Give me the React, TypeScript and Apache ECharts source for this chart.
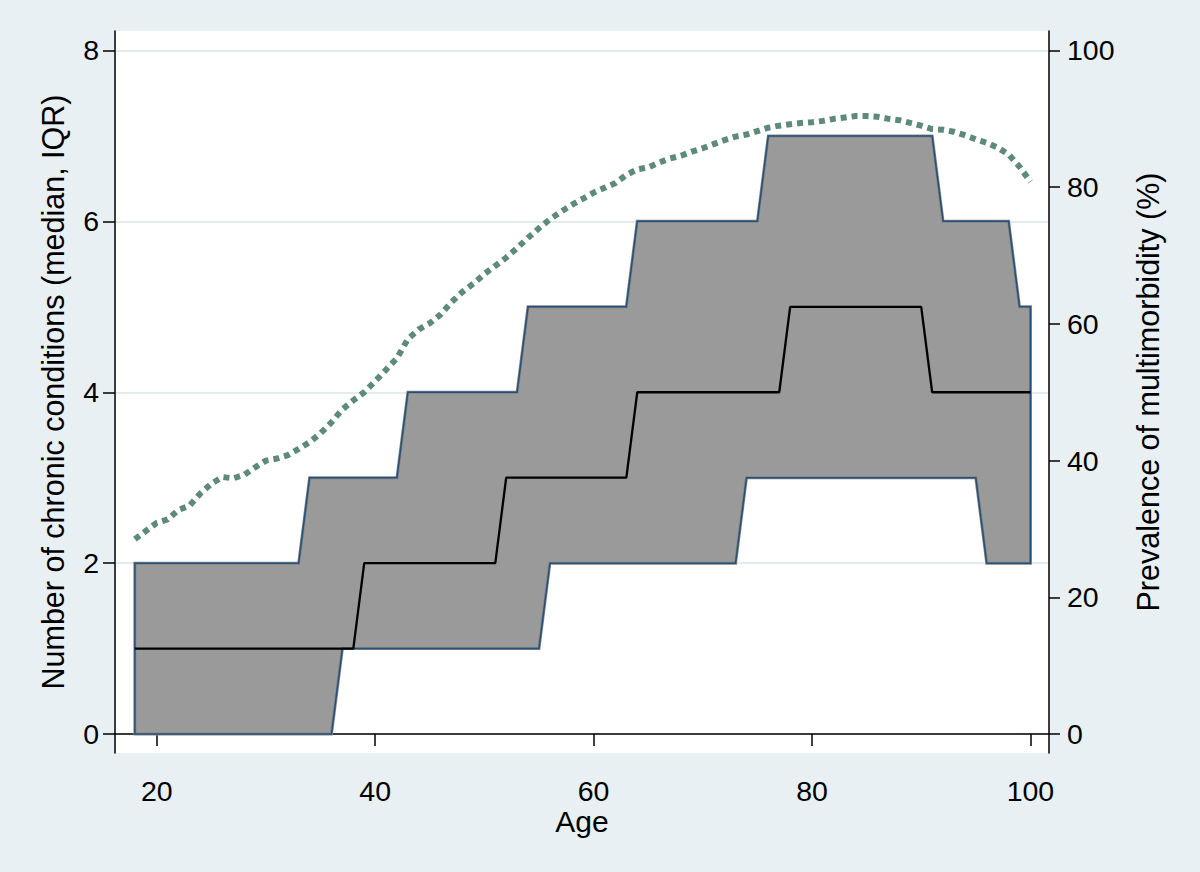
import React, { useEffect, useRef } from 'react';
import * as echarts from 'echarts';

const ages = [
  18, 19, 20, 21, 22, 23, 24, 25, 26, 27, 28, 29, 30, 31, 32, 33, 34, 35, 36, 37,
  38, 39, 40, 41, 42, 43, 44, 45, 46, 47, 48, 49, 50, 51, 52, 53, 54, 55, 56, 57,
  58, 59, 60, 61, 62, 63, 64, 65, 66, 67, 68, 69, 70, 71, 72, 73, 74, 75, 76, 77,
  78, 79, 80, 81, 82, 83, 84, 85, 86, 87, 88, 89, 90, 91, 92, 93, 94, 95, 96, 97,
  98, 99, 100,
];

// lower quartile (25th percentile) of chronic conditions
const q1 = [
  0, 0, 0, 0, 0, 0, 0, 0, 0, 0, 0, 0, 0, 0, 0, 0, 0, 0, 0, // 18-36
  1, 1, 1, 1, 1, 1, 1, 1, 1, 1, 1, 1, 1, 1, 1, 1, 1, 1, 1, // 37-55
  2, 2, 2, 2, 2, 2, 2, 2, 2, 2, 2, 2, 2, 2, 2, 2, 2, 2, // 56-73
  3, 3, 3, 3, 3, 3, 3, 3, 3, 3, 3, 3, 3, 3, 3, 3, 3, 3, 3, 3, 3, 3, // 74-95
  2, 2, 2, 2, 2, // 96-100
];

// upper quartile (75th percentile)
const q3 = [
  2, 2, 2, 2, 2, 2, 2, 2, 2, 2, 2, 2, 2, 2, 2, 2, // 18-33
  3, 3, 3, 3, 3, 3, 3, 3, 3, // 34-42
  4, 4, 4, 4, 4, 4, 4, 4, 4, 4, 4, // 43-53
  5, 5, 5, 5, 5, 5, 5, 5, 5, 5, // 54-63
  6, 6, 6, 6, 6, 6, 6, 6, 6, 6, 6, 6, // 64-75
  7, 7, 7, 7, 7, 7, 7, 7, 7, 7, 7, 7, 7, 7, 7, 7, // 76-91
  6, 6, 6, 6, 6, 6, 6, // 92-98
  5, 5, // 99-100
];

// median
const median = [
  1, 1, 1, 1, 1, 1, 1, 1, 1, 1, 1, 1, 1, 1, 1, 1, 1, 1, 1, 1, 1, // 18-38
  2, 2, 2, 2, 2, 2, 2, 2, 2, 2, 2, 2, 2, // 39-51
  3, 3, 3, 3, 3, 3, 3, 3, 3, 3, 3, 3, // 52-63
  4, 4, 4, 4, 4, 4, 4, 4, 4, 4, 4, 4, 4, 4, // 64-77
  5, 5, 5, 5, 5, 5, 5, 5, 5, 5, 5, 5, 5, // 78-90
  4, 4, 4, 4, 4, 4, 4, 4, 4, 4, // 91-100
];

// prevalence of multimorbidity (%)
const prevalence = [
  28.5, 29.7, 30.9, 31.4, 32.8, 33.4, 35.2, 36.6, 37.6, 37.4,
  37.9, 39.0, 40.0, 40.3, 40.8, 41.7, 42.7, 44.0, 45.6, 47.5,
  48.8, 50.0, 51.6, 53.3, 55.0, 57.8, 59.2, 60.1, 61.4, 63.2,
  64.7, 65.9, 67.3, 68.5, 69.7, 71.1, 72.6, 74.0, 75.3, 76.4,
  77.4, 78.3, 79.2, 79.9, 80.6, 81.8, 82.6, 82.9, 83.6, 84.2,
  84.6, 85.2, 85.7, 86.3, 86.9, 87.4, 87.7, 88.2, 88.7, 89.0,
  89.2, 89.4, 89.5, 89.7, 90.0, 90.2, 90.4, 90.4, 90.3, 90.0,
  89.8, 89.4, 89.0, 88.5, 88.4, 88.1, 87.6, 87.0, 86.5, 85.8,
  84.8, 83.0, 80.8,
];

const xTicks = [20, 40, 60, 80, 100];
const yLeftTicks = [0, 2, 4, 6, 8];
const yRightTicks = [0, 20, 40, 60, 80, 100];

const FONT = "'Liberation Sans', Arial, Helvetica, sans-serif";
const NAVY = '#24507c';
const BAND = '#9a9a9a';
const DOT = '#5d8a7b';
const GRID = '#e2ebef';
const BG = '#e8f0f3';

export default function App() {
  const ref = useRef<HTMLDivElement>(null);
  useEffect(() => {
    if (!ref.current) return;
    const chart = echarts.init(ref.current, undefined, { renderer: 'svg' });
    chart.setOption({
      animation: false,
      backgroundColor: BG,
      textStyle: { fontFamily: FONT },
      grid: {
        left: 115,
        right: 151,
        top: 31,
        bottom: 119,
        show: true,
        backgroundColor: '#ffffff',
        borderWidth: 0,
      },
      xAxis: {
        type: 'value',
        min: 16.18,
        max: 101.7,
        axisLine: { show: true, lineStyle: { color: '#000', width: 1.5 } },
        axisTick: { show: true, length: 12, customValues: xTicks, lineStyle: { color: '#000', width: 1.5 } },
        axisLabel: { customValues: xTicks, fontSize: 28.5, color: '#000', margin: 23, fontFamily: FONT },
        splitLine: { show: false },
        name: 'Age',
        nameLocation: 'middle',
        nameGap: 53,
        nameMoveOverlap: false,
        nameTextStyle: { fontSize: 30, color: '#000', fontFamily: FONT },
      },
      yAxis: [
        {
          type: 'value',
          position: 'left',
          min: -0.222,
          max: 8.228,
          axisLine: { show: true, lineStyle: { color: '#000', width: 1.5 } },
          axisTick: { show: true, length: 12, customValues: yLeftTicks, lineStyle: { color: '#000', width: 1.5 } },
          axisLabel: { customValues: yLeftTicks, fontSize: 28.5, color: '#000', margin: 16, fontFamily: FONT },
          splitLine: { show: true, lineStyle: { color: GRID, width: 2 } },
          name: 'Number of chronic conditions (median, IQR)',
          nameLocation: 'middle',
          nameGap: 47,
          nameTextStyle: { fontSize: 30.5, color: '#000', fontFamily: FONT },
        },
        {
          type: 'value',
          position: 'right',
          min: -2.78,
          max: 102.85,
          axisLine: { show: true, lineStyle: { color: '#000', width: 1.5 } },
          axisTick: { show: true, length: 11, customValues: yRightTicks, lineStyle: { color: '#000', width: 1.5 } },
          axisLabel: { customValues: yRightTicks, fontSize: 28.5, color: '#000', margin: 18, fontFamily: FONT },
          splitLine: { show: false },
          name: 'Prevalence of multimorbidity (%)',
          nameLocation: 'middle',
          nameGap: 83,
          nameTextStyle: { fontSize: 30.5, color: '#000', fontFamily: FONT },
        },
      ],
      series: [
        {
          name: 'IQR',
          type: 'custom',
          data: ages.map((a, i) => [a, q1[i], q3[i]]),
          encode: { x: 0, y: [1, 2] },
          renderItem: (params: any, api: any) => {
            if (params.dataIndex !== 0) return null;
            const pts: number[][] = [];
            for (let i = 0; i < ages.length; i++) pts.push(api.coord([ages[i], q1[i]]));
            for (let i = ages.length - 1; i >= 0; i--) pts.push(api.coord([ages[i], q3[i]]));
            return {
              type: 'group',
              children: [
                {
                  type: 'polygon',
                  shape: { points: pts },
                  style: { fill: BAND, stroke: '#858585', lineWidth: 3, lineJoin: 'miter' },
                },
                {
                  type: 'polygon',
                  shape: { points: pts },
                  style: { fill: 'none', stroke: NAVY, lineWidth: 1.5, lineJoin: 'miter' },
                },
              ],
            };
          },
          z: 3,
        },
        {
          name: 'Median',
          type: 'line',
          symbol: 'none',
          data: ages.map((a, i) => [a, median[i]]),
          lineStyle: { color: '#000', width: 2.3 },
          z: 5,
        },
        {
          name: 'Prevalence',
          type: 'line',
          yAxisIndex: 1,
          symbol: 'none',
          data: ages.map((a, i) => [a, prevalence[i]]),
          lineStyle: { color: DOT, width: 6, type: [6, 5], cap: 'butt' },
          z: 6,
        },
      ],
    });
    return () => chart.dispose();
  }, []);
  return (
    <div
      ref={ref}
      style={{ position: 'fixed', left: 0, top: 0, width: 1200, height: 872 }}
    />
  );
}
